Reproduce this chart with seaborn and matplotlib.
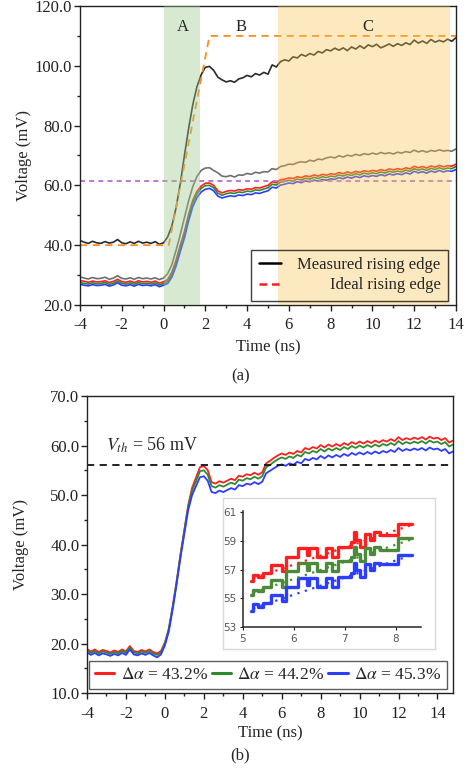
import numpy as np
import seaborn as sns
import matplotlib.pyplot as plt
from matplotlib.lines import Line2D
from matplotlib.ticker import MultipleLocator, FormatStrFormatter

# ---------------- panel (a): sampled every 0.2 ns, -4 .. 14 ns ----------------
time_a = np.round(np.arange(-4.0, 14.01, 0.2), 1)

measured_a = [
    41.6, 41.0, 40.6, 41.3, 40.8, 40.6, 41.2, 40.7, 41.0, 41.9,
    40.8, 40.5, 41.1, 40.6, 41.3, 40.7, 41.0, 40.6, 41.2, 40.3, 40.8,
    42.8, 46.5, 52.5, 60.5, 70.0, 79.0, 87.0, 93.0, 97.0, 99.5,
    99.8, 98.5, 96.2, 95.3, 94.6, 95.0, 94.5, 95.6, 96.0, 96.8, 96.3, 97.4, 96.9, 97.8, 97.2,
    100.3, 99.6, 101.4, 102.0, 101.6, 103.0, 102.6, 103.8, 103.2, 104.1, 103.6, 104.8, 104.3, 105.4, 105.0,
    105.9, 105.2, 106.0, 105.1, 106.3, 105.6, 106.7, 105.8, 107.0, 106.4, 107.2, 106.0, 106.6, 107.3, 106.5,
    107.4, 106.8, 107.7, 107.1, 108.6, 107.6, 108.3, 107.5, 108.8, 107.9, 108.5, 108.0, 108.9, 108.2, 109.4,
]
gray_a = [
    29.4, 29.0, 28.7, 29.2, 28.8, 28.9, 29.3, 28.6, 29.0, 29.8,
    28.9, 28.7, 29.1, 28.6, 29.2, 28.8, 29.0, 28.7, 29.1, 28.5, 29.0,
    30.5, 33.5, 38.3, 43.5, 49.2, 54.8, 59.6, 63.0, 65.0, 65.8,
    65.9, 65.0, 64.2, 63.1, 62.9, 63.3, 62.8, 63.5, 63.4, 64.0, 63.7, 64.4, 64.1, 64.6, 64.5,
    65.6, 65.3, 66.3, 66.6, 67.1, 67.0, 67.6, 67.9, 67.7, 68.4, 68.1, 68.8, 68.6, 69.2, 69.5,
    69.2, 69.9, 69.5, 70.1, 69.8, 70.4, 70.0, 70.6, 70.3, 70.8, 70.4, 71.0, 70.6, 70.9, 70.5,
    71.1, 70.8, 71.3, 71.0, 71.8, 71.2, 71.6, 71.1, 71.7, 71.4, 71.9, 71.5, 71.7, 71.4, 72.2,
]
red_a = [
    28.2, 27.9, 27.6, 28.0, 27.7, 27.8, 28.1, 27.5, 27.9, 28.6,
    27.8, 27.6, 28.0, 27.5, 28.1, 27.7, 27.9, 27.6, 28.0, 27.3, 27.8,
    28.5, 31.0, 35.0, 40.0, 44.5, 50.3, 55.0, 58.0, 59.8, 60.7,
    60.8, 60.0, 58.2, 57.5, 58.0, 58.3, 58.1, 58.6, 58.4, 58.9, 58.7, 59.3, 59.1, 59.6, 60.0,
    61.2, 60.9, 61.9, 62.1, 62.5, 62.3, 62.9, 62.6, 63.2, 62.9, 63.5, 63.1, 63.7, 63.4, 63.9,
    63.7, 64.3, 63.9, 64.5, 64.1, 64.7, 64.3, 64.9, 64.6, 65.0, 64.7, 65.3, 64.9, 65.5, 65.2,
    65.6, 65.3, 65.9, 65.5, 66.4, 65.9, 66.3, 65.8, 66.5, 66.1, 66.7, 66.2, 66.6, 66.4, 67.1,
]
green_a = [
    27.5, 27.2, 27.0, 27.4, 27.1, 27.2, 27.5, 26.9, 27.3, 28.0,
    27.2, 27.0, 27.4, 26.9, 27.5, 27.1, 27.3, 27.0, 27.4, 26.7, 27.2,
    27.9, 30.2, 34.0, 38.9, 43.5, 49.3, 54.1, 57.1, 59.0, 59.9,
    60.0, 59.2, 57.4, 56.7, 57.2, 57.5, 57.3, 57.8, 57.6, 58.1, 57.9, 58.5, 58.3, 58.8, 59.2,
    60.4, 60.1, 61.1, 61.3, 61.7, 61.5, 62.1, 61.8, 62.4, 62.1, 62.7, 62.3, 62.9, 62.6, 63.1,
    62.9, 63.5, 63.1, 63.7, 63.3, 63.9, 63.5, 64.1, 63.8, 64.2, 63.9, 64.5, 64.1, 64.7, 64.4,
    64.8, 64.5, 65.1, 64.7, 65.6, 65.1, 65.5, 65.0, 65.7, 65.3, 65.9, 65.4, 65.8, 65.6, 66.3,
]
blue_a = [
    26.9, 26.6, 26.4, 26.8, 26.5, 26.6, 26.9, 26.3, 26.7, 27.4,
    26.6, 26.4, 26.8, 26.3, 26.9, 26.5, 26.7, 26.4, 26.8, 26.1, 26.6,
    27.2, 29.3, 33.0, 37.8, 42.4, 48.1, 52.9, 55.9, 57.8, 58.7,
    59.0, 58.2, 56.4, 55.8, 56.2, 56.5, 56.3, 56.8, 56.6, 57.1, 56.9, 57.5, 57.3, 57.8, 58.2,
    59.4, 59.1, 60.1, 60.4, 60.8, 60.6, 61.2, 60.9, 61.5, 61.2, 61.8, 61.4, 62.0, 61.7, 62.2,
    62.0, 62.6, 62.2, 62.8, 62.4, 63.0, 62.6, 63.2, 62.9, 63.3, 63.0, 63.6, 63.2, 63.8, 63.5,
    63.9, 63.6, 64.2, 63.8, 64.7, 64.2, 64.6, 64.1, 64.8, 64.4, 65.0, 64.5, 64.9, 64.7, 65.3,
]

ideal_t = [-4.0, 0.25, 2.2, 14.0]
ideal_v = [40.0, 40.0, 110.0, 110.0]
threshold_a = 61.4
region_a = (0.0, 1.75)
region_c = (5.5, 13.7)

# ---------------- panel (b): sampled every 0.2 ns, -4 .. 14.8 ns ----------------
time_b = np.round(np.arange(-4.0, 14.81, 0.2), 1)

red_b = [
    18.9, 18.4, 18.8, 18.3, 18.7, 18.5, 18.2, 18.6, 18.3, 18.8,
    18.4, 19.5, 18.5, 18.3, 18.7, 18.4, 18.8, 18.3, 18.0, 18.5,
    20.2, 23.0, 27.5, 32.5, 38.0, 43.0, 48.0, 51.5, 53.5, 55.6, 55.9, 55.0, 52.6,
    52.3, 52.8, 52.5, 52.9, 53.3, 53.0, 53.9, 53.7, 54.2, 54.0,
    54.5, 54.1, 54.6, 56.4, 56.9, 57.5, 58.0, 58.4, 58.1, 58.6,
    58.3, 58.9, 58.6, 59.5, 59.2, 59.7, 59.4, 60.1, 59.6, 60.2,
    59.8, 60.3, 59.9, 60.5, 60.1, 60.7, 60.3, 60.8, 60.4, 60.9,
    60.5, 61.0, 60.6, 61.1, 60.8, 61.3, 60.9, 61.7, 61.1, 61.5,
    61.2, 61.6, 61.3, 61.7, 61.2, 61.8, 61.4, 61.6, 61.1, 61.5,
    60.6, 61.0,
]
green_b = [
    18.6, 18.1, 18.5, 18.0, 18.4, 18.2, 17.9, 18.3, 18.0, 18.5,
    18.1, 19.2, 18.2, 18.0, 18.4, 18.1, 18.5, 18.0, 17.7, 18.2,
    20.0, 22.8, 27.3, 32.3, 37.8, 42.7, 47.6, 50.9, 52.8, 54.8, 55.0, 54.1, 51.8,
    51.5, 52.0, 51.7, 52.1, 52.5, 52.2, 53.1, 52.9, 53.4, 53.2,
    53.7, 53.3, 53.8, 55.6, 56.1, 56.7, 57.2, 57.6, 57.3, 57.8,
    57.5, 58.1, 57.8, 58.7, 58.4, 58.9, 58.6, 59.3, 58.8, 59.4,
    59.0, 59.5, 59.1, 59.7, 59.3, 59.9, 59.5, 60.0, 59.6, 60.1,
    59.7, 60.2, 59.8, 60.3, 60.0, 60.5, 60.1, 60.9, 60.3, 60.7,
    60.4, 60.8, 60.5, 60.9, 60.4, 61.0, 60.6, 60.8, 60.3, 60.7,
    59.8, 60.2,
]
blue_b = [
    18.2, 17.7, 18.1, 17.6, 18.0, 17.8, 17.5, 17.9, 17.6, 18.1,
    17.7, 18.8, 17.8, 17.6, 18.0, 17.7, 18.1, 17.6, 17.2, 17.8,
    19.6, 22.4, 26.9, 31.9, 37.3, 42.2, 47.0, 50.0, 51.8, 53.6, 53.8, 52.9, 50.6,
    50.4, 50.9, 50.6, 51.0, 51.4, 51.1, 52.0, 51.8, 52.3, 52.1,
    52.6, 52.2, 52.7, 54.4, 54.9, 55.4, 55.9, 56.2, 55.9, 56.4,
    56.1, 56.7, 56.4, 57.3, 57.0, 57.5, 57.2, 57.9, 57.4, 58.0,
    57.6, 58.1, 57.7, 58.3, 57.9, 58.5, 58.1, 58.6, 58.2, 58.7,
    58.3, 58.8, 58.4, 58.9, 58.6, 59.1, 58.7, 59.5, 58.9, 59.3,
    59.0, 59.4, 59.1, 59.5, 59.0, 59.6, 59.2, 59.4, 58.9, 59.3,
    58.4, 58.8,
]
vth = 56.0
legend_b = [r"$\Delta\alpha$ = 43.2%", r"$\Delta\alpha$ = 44.2%", r"$\Delta\alpha$ = 45.3%"]

# inset: zoom on 5..8.3 ns (step traces + dotted trend)
inset_t = [5.16, 5.19, 5.3, 5.4, 5.55, 5.77, 5.85, 6.08, 6.25, 6.29, 6.46, 6.64,
           6.75, 6.87, 7.13, 7.19, 7.22, 7.3, 7.4, 7.5, 7.57, 7.7, 8.05, 8.32]
inset_red = [56.2, 56.6, 56.5, 56.8, 57.3, 56.9, 57.9, 58.5, 58.0, 58.5, 57.9, 58.5,
             57.9, 58.6, 58.9, 59.6, 59.1, 58.6, 59.5, 59.1, 59.6, 59.4, 60.2, 60.2]
inset_green = [55.2, 55.6, 55.5, 55.8, 56.3, 55.8, 56.9, 57.5, 57.0, 57.5, 56.9, 57.5,
               56.9, 57.6, 57.9, 58.6, 58.1, 57.6, 58.5, 58.1, 58.6, 58.4, 59.2, 59.2]
inset_blue = [54.1, 54.6, 54.4, 54.7, 55.2, 54.8, 55.8, 56.4, 55.9, 56.4, 55.8, 56.4,
              55.8, 56.5, 56.8, 57.5, 57.0, 56.5, 57.4, 57.0, 57.5, 57.4, 58.0, 58.0]
trend_t = [5.2, 8.3]
trend_red = [56.4, 60.1]
trend_green = [55.4, 59.1]
trend_blue = [54.3, 58.0]

RED, GREEN, BLUE = "#ff1f1f", "#2f8a2f", "#2b3dff"

sns.set_style("ticks")
plt.rcParams["font.family"] = ["Liberation Serif", "DejaVu Serif"]
plt.rcParams["mathtext.fontset"] = "stix"
plt.rcParams["axes.unicode_minus"] = False

fig = plt.figure(figsize=(4.68, 7.69), dpi=100)


def style_axes(ax, ylab_x, xlab_y):
    for sp in ax.spines.values():
        sp.set_visible(True)
        sp.set_color("#222222")
        sp.set_linewidth(1.0)
    ax.tick_params(which="major", direction="out", length=4, width=1, labelsize=12,
                   colors="#222222")
    ax.tick_params(axis="x", which="major", pad=5)
    ax.tick_params(axis="y", which="major", pad=1.5)
    ax.tick_params(which="minor", direction="out", length=2.5, width=1, colors="#222222")
    ax.yaxis.set_major_formatter(FormatStrFormatter("%.1f"))
    ax.set_xlabel("Time (ns)", fontsize=12)
    ax.set_ylabel("Voltage (mV)", fontsize=12)
    ax.yaxis.set_label_coords(ylab_x, 0.5)
    ax.xaxis.set_label_coords(0.5, xlab_y)


# ---------------- panel (a) ----------------
ax1 = fig.add_axes([0.1709, 0.6034, 0.8034, 0.3888])
sns.lineplot(x=time_a, y=measured_a, ax=ax1, color="#2a2a2a", linewidth=1.2)
sns.lineplot(x=time_a, y=gray_a, ax=ax1, color="#6f6f6f", linewidth=1.2)
sns.lineplot(x=time_a, y=red_a, ax=ax1, color=RED, linewidth=1.2)
sns.lineplot(x=time_a, y=green_a, ax=ax1, color=GREEN, linewidth=1.2)
sns.lineplot(x=time_a, y=blue_a, ax=ax1, color=BLUE, linewidth=1.2)
ax1.plot(ideal_t, ideal_v, color="#ff8c1a", linewidth=1.3, dashes=(4, 3))
ax1.axhline(threshold_a, color="#b262c4", linewidth=1.2, dashes=(3, 2.5))
ax1.axvspan(*region_a, color="#9cc98a", alpha=0.4, lw=0, zorder=3)
ax1.axvspan(*region_c, color="#f9c24a", alpha=0.35, lw=0, zorder=3)
ax1.text(0.93, 113, "A", ha="center", va="center", fontsize=12)
ax1.text(3.7, 113, "B", ha="center", va="center", fontsize=12)
ax1.text(9.8, 113, "C", ha="center", va="center", fontsize=12)

ax1.set_xlim(-4, 14)
ax1.set_ylim(20, 120)
ax1.xaxis.set_major_locator(MultipleLocator(2))
ax1.xaxis.set_minor_locator(MultipleLocator(1))
ax1.yaxis.set_major_locator(MultipleLocator(20))
ax1.yaxis.set_minor_locator(MultipleLocator(10))
style_axes(ax1, -0.128, -0.115)

handles_a = [Line2D([], [], color="black", lw=1.8),
             Line2D([], [], color="#ff1a1a", lw=1.8, dashes=(3, 2))]
leg1 = ax1.legend(handles_a, ["Measured rising edge", "Ideal rising edge"],
                  loc="lower right", bbox_to_anchor=(1 - 8 / 376, 4 / 299),
                  borderaxespad=0, fontsize=12, frameon=True, fancybox=False,
                  handlelength=1.3, handletextpad=1.0, borderpad=0.45,
                  labelspacing=0.25)
leg1.get_frame().set_facecolor("none")
leg1.get_frame().set_edgecolor("#111111")
leg1.get_frame().set_linewidth(1.0)
leg1.set_zorder(6)

# ---------------- panel (b) ----------------
ax2 = fig.add_axes([0.1859, 0.0988, 0.7821, 0.3862])
for series, col, lab in zip([red_b, green_b, blue_b], [RED, GREEN, BLUE], legend_b):
    sns.lineplot(x=time_b, y=series, ax=ax2, color=col, linewidth=1.3, label=lab)
ax2.axhline(vth, color="#111111", linewidth=1.3, dashes=(4, 3))
ax2.text(-3.0, 60.1, r"$V_{th}$ = 56 mV", ha="left", va="center", fontsize=13)

ax2.set_xlim(-4, 14.8)
ax2.set_ylim(10, 70)
ax2.xaxis.set_major_locator(MultipleLocator(2))
ax2.xaxis.set_minor_locator(MultipleLocator(1))
ax2.yaxis.set_major_locator(MultipleLocator(10))
ax2.yaxis.set_minor_locator(MultipleLocator(5))
style_axes(ax2, -0.158, -0.108)

leg2 = ax2.legend(loc="lower center", bbox_to_anchor=(0.4945, 4 / 297), borderaxespad=0,
                  ncol=3, fontsize=12.5, frameon=True, fancybox=False,
                  handlelength=1.1, handletextpad=0.35, columnspacing=0.25,
                  borderpad=0.35)
leg2.get_frame().set_edgecolor("#333333")
leg2.get_frame().set_linewidth(1.0)
for ln in leg2.get_lines():
    ln.set_linewidth(2.2)

# inset frame and inset axes
frame = fig.add_axes([0.4765, 0.1560, 0.4530, 0.1964])
frame.set_xticks([])
frame.set_yticks([])
for sp in frame.spines.values():
    sp.set_color("#d9d9d9")
    sp.set_linewidth(1.0)

ins = fig.add_axes([0.5192, 0.1847, 0.3803, 0.1508])
ins.patch.set_alpha(0)
for vals, col in zip([inset_red, inset_green, inset_blue], [RED, "#4b8a3a", BLUE]):
    sns.lineplot(x=inset_t, y=vals, ax=ins, color=col, linewidth=2.4,
                 drawstyle="steps-post", sort=False)
for vals, col in zip([trend_red, trend_green, trend_blue], [RED, "#4b8a3a", BLUE]):
    ins.plot(trend_t, vals, color=col, linewidth=1.6, linestyle=(0, (1, 2.5)))
ins.set_xlim(5, 8.5)
ins.set_ylim(53, 61.1)
ins.set_xticks([5, 6, 7, 8])
ins.set_yticks([53, 55, 57, 59, 61])
ins.tick_params(direction="out", length=2, width=0.8, labelsize=7.5, pad=3,
                labelcolor="#555555", color="#222222")
for lbl in ins.get_xticklabels() + ins.get_yticklabels():
    lbl.set_family("DejaVu Sans")
ins.spines["top"].set_visible(False)
ins.spines["right"].set_visible(False)
ins.spines["left"].set_linewidth(1.1)
ins.spines["bottom"].set_linewidth(1.1)
ins.plot(1, 0, ">", color="black", markersize=5, transform=ins.get_yaxis_transform(), clip_on=False)
ins.plot(0, 1, "^", color="black", markersize=5, transform=ins.get_xaxis_transform(), clip_on=False)

# captions
fig.text(0.513, 1 - 376 / 769, "(a)", ha="center", va="center", fontsize=12)
fig.text(0.513, 1 - 755 / 769, "(b)", ha="center", va="center", fontsize=12)

# right-align the shorter legend text in panel (a)
fig.canvas.draw()
texts = leg1.get_texts()
widths = [t.get_window_extent().width for t in texts]
for t, w in zip(texts, widths):
    t.set_x(max(widths) - w)

fig.savefig("out.png", dpi=100)
